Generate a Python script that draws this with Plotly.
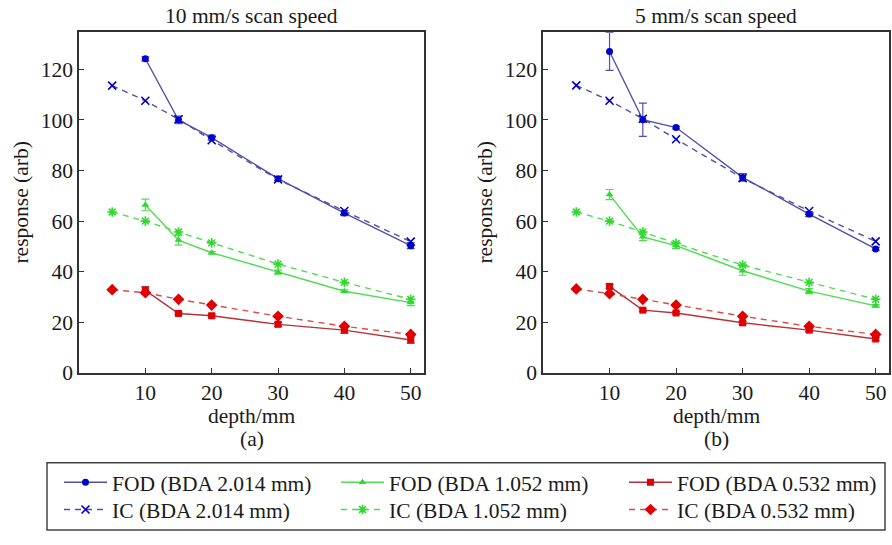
import plotly.graph_objects as go

W, H = 892, 545

depth_fod = [10, 15, 20, 30, 40, 50]
depth_ic = [5, 10, 15, 20, 30, 40, 50]

# 10 mm/s scan speed (a)
fod_blue_a = [124.2, 100.0, 93.0, 76.8, 63.2, 50.3]
fod_blue_a_err = [0.8, 1.5, 1.0, 0.8, 1.0, 1.2]
ic_blue_a = [113.6, 107.6, 100.3, 92.0, 76.5, 64.0, 51.9]
fod_green_a = [66.4, 52.5, 47.5, 39.8, 32.3, 27.8]
fod_green_a_err = [2.3, 2.0, 0.5, 0.8, 0.5, 1.2]
ic_green_a = [63.6, 60.0, 55.7, 51.4, 43.0, 35.8, 29.1]
fod_red_a = [32.6, 23.5, 22.6, 19.2, 16.9, 13.0]
fod_red_a_err = [1.5, 0.5, 0.5, 0.8, 1.2, 1.2]
ic_red_a = [32.9, 31.7, 29.1, 26.8, 22.4, 18.4, 15.2]

# 5 mm/s scan speed (b)
fod_blue_b = [127.1, 100.1, 97.0, 77.3, 62.8, 49.0]
fod_blue_b_err = [7.5, 6.6, 0.5, 1.5, 1.0, 0.6]
ic_blue_b = [113.7, 107.6, 100.5, 92.4, 77.0, 64.0, 52.0]
fod_green_b = [70.5, 53.8, 50.3, 40.4, 32.3, 26.5]
fod_green_b_err = [2.0, 1.5, 1.2, 1.8, 1.0, 0.5]
ic_green_b = [63.6, 60.0, 55.7, 51.2, 42.6, 35.8, 29.1]
fod_red_b = [34.2, 24.8, 23.7, 19.8, 16.9, 13.4]
fod_red_b_err = [0.8, 0.5, 0.5, 0.6, 0.6, 0.6]
ic_red_b = [33.2, 31.3, 29.1, 26.8, 22.4, 18.4, 15.2]

x_ticks = [10, 20, 30, 40, 50]
y_ticks = [0, 20, 40, 60, 80, 100, 120]

labels_fod = ["FOD (BDA 2.014 mm)", "FOD (BDA 1.052 mm)", "FOD (BDA 0.532 mm)"]
labels_ic = ["IC (BDA 2.014 mm)", "IC (BDA 1.052 mm)", "IC (BDA 0.532 mm)"]

FONT = "Liberation Serif"
TXT = "#1a1a1a"
FS = 21.5

styles = [
    dict(line_fod="#5050a8", line_ic="#5050a8", mk="#0000c8", sym_fod="circle", sym_ic="x-thin"),
    dict(line_fod="#50dc50", line_ic="#50dc50", mk="#30d830", sym_fod="triangle-up", sym_ic="asterisk"),
    dict(line_fod="#b83038", line_ic="#e04848", mk="#e00000", sym_fod="square", sym_ic="diamond"),
]


def px_x(p):
    return p / W


def px_y(p):
    return (H - p) / H


fig = go.Figure()

panels = [
    ("x", "y", [(fod_blue_a, fod_blue_a_err, ic_blue_a), (fod_green_a, fod_green_a_err, ic_green_a),
                (fod_red_a, fod_red_a_err, ic_red_a)]),
    ("x2", "y2", [(fod_blue_b, fod_blue_b_err, ic_blue_b), (fod_green_b, fod_green_b_err, ic_green_b),
                  (fod_red_b, fod_red_b_err, ic_red_b)]),
]
leg_fod = ["legend", "legend2", "legend3"]
leg_ic = ["legend4", "legend5", "legend6"]

for pi, (xa, ya, series) in enumerate(panels):
    for si, (fod, err, ic) in enumerate(series):
        st = styles[si]
        fig.add_trace(go.Scatter(
            x=depth_fod, y=fod, xaxis=xa, yaxis=ya, mode="lines+markers",
            name=labels_fod[si], legend=leg_fod[si], showlegend=(pi == 0),
            line=dict(color=st["line_fod"], width=1.4),
            marker=dict(symbol=st["sym_fod"], color=st["mk"], size=7, line=dict(width=0)),
            error_y=dict(type="data", array=err, color=st["line_fod"], thickness=1.2, width=4),
        ))
        ic_marker = dict(symbol=st["sym_ic"], color=st["mk"], size=8,
                         line=dict(width=1.6, color=st["mk"]))
        if st["sym_ic"] == "diamond":
            ic_marker = dict(symbol="diamond", color=st["mk"], size=9, line=dict(width=0))
        fig.add_trace(go.Scatter(
            x=depth_ic, y=ic, xaxis=xa, yaxis=ya, mode="lines+markers",
            name=labels_ic[si], legend=leg_ic[si], showlegend=(pi == 0),
            line=dict(color=st["line_ic"], width=1.4, dash="6px,5px"),
            marker=ic_marker,
        ))

ydom = [px_y(382), px_y(33)]
axis_common = dict(
    showline=True, linecolor="#333333", linewidth=1.5, mirror=True,
    ticks="inside", ticklen=5, tickcolor="#333333", tickwidth=1.2,
    showgrid=False, zeroline=False,
    tickfont=dict(family=FONT, size=FS, color=TXT),
)
fig.update_layout(
    width=W, height=H,
    font=dict(family=FONT, size=FS, color=TXT),
    margin=dict(l=0, r=0, t=0, b=0),
    paper_bgcolor="white", plot_bgcolor="white",
    xaxis=dict(domain=[px_x(79), px_x(424)], range=[0, 52], tickvals=x_ticks, anchor="y", **axis_common),
    yaxis=dict(domain=ydom, range=[0, 134.7], tickvals=y_ticks, anchor="x", **axis_common),
    xaxis2=dict(domain=[px_x(543), px_x(889)], range=[0, 52], tickvals=x_ticks, anchor="y2", **axis_common),
    yaxis2=dict(domain=ydom, range=[0, 134.7], tickvals=y_ticks, anchor="x2", **axis_common),
    showlegend=True,
)

leg_common = dict(
    orientation="v", xanchor="left", yanchor="middle", bgcolor="rgba(0,0,0,0)",
    borderwidth=0, itemwidth=43, tracegroupgap=0,
    font=dict(family=FONT, size=FS, color=TXT),
)
col_x = [59, 336, 624]
row_y = [494, 522]
legend_layout = {}
for ci in range(3):
    legend_layout[leg_fod[ci]] = dict(x=px_x(col_x[ci]), y=px_y(row_y[0]), **leg_common)
    legend_layout[leg_ic[ci]] = dict(x=px_x(col_x[ci]), y=px_y(row_y[1]), **leg_common)
fig.update_layout(**legend_layout)

fig.add_shape(type="rect", xref="paper", yref="paper",
              x0=px_x(47), x1=px_x(885), y0=px_y(543), y1=px_y(474),
              line=dict(color="#444444", width=1.5), fillcolor="rgba(0,0,0,0)")

ann_font = dict(family=FONT, size=FS, color=TXT)
annotations = [
    ("10 mm/s scan speed", 252, 16, 0),
    ("5 mm/s scan speed", 716, 16, 0),
    ("depth/mm", 252, 426, 0),
    ("depth/mm", 716, 426, 0),
    ("(a)", 252, 450, 0),
    ("(b)", 716, 450, 0),
    ("response (arb)", 21, 207.5, -90),
    ("response (arb)", 485, 207.5, -90),
]
for text, ax_, ay_, ang in annotations:
    fig.add_annotation(text=text, x=px_x(ax_), y=px_y(ay_), xref="paper", yref="paper",
                       xanchor="center", yanchor="middle", showarrow=False,
                       textangle=ang, font=ann_font)

# remove the default 8px page margin so the figure fills the window exactly
fig.write_html(
    "out.html",
    config={"displayModeBar": False},
    post_script="document.body.style.margin='0';document.body.style.overflow='hidden';",
)
